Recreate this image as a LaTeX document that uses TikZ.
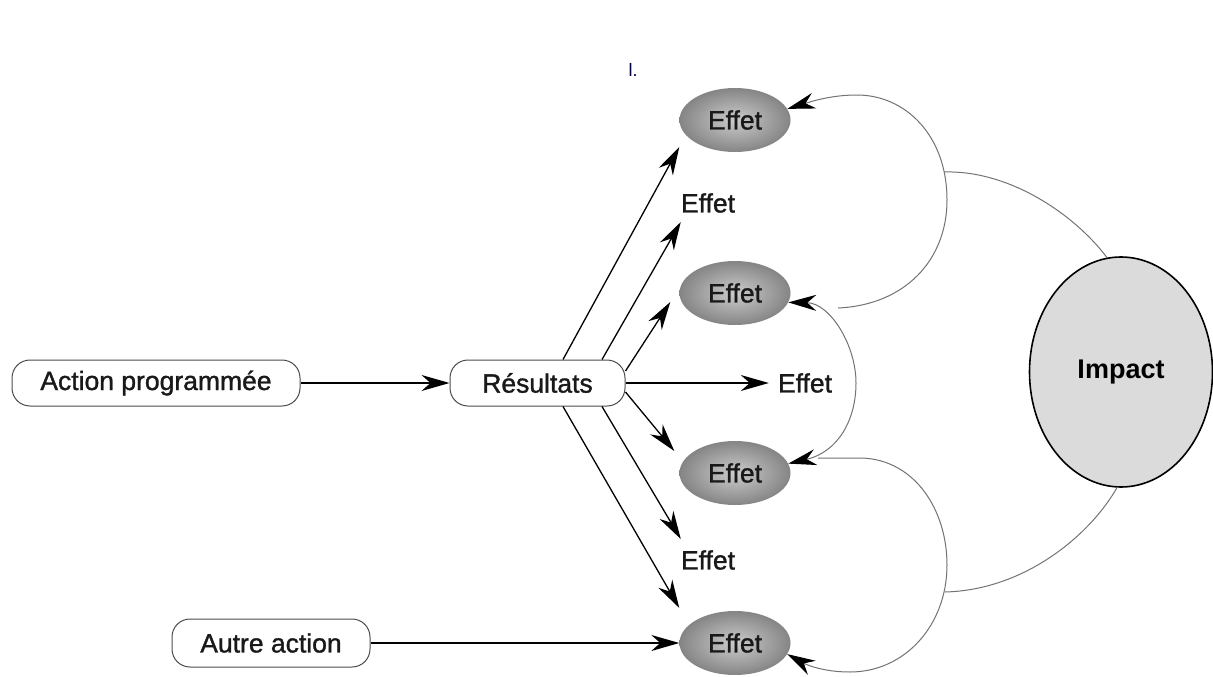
\documentclass[tikz,border=0pt]{standalone}
\usepackage{fontspec}
\setmainfont{Liberation Sans}
\newfontfamily\medfont[FakeBold=1.2]{Liberation Sans}
\usetikzlibrary{arrows.meta,shapes.geometric,calc}
\begin{document}
\begin{tikzpicture}[x=1pt,y=-1pt,
  txt/.style={font=\medfont\fontsize{26.5}{30}\selectfont, text=black!90, inner sep=0pt},
  boxnode/.style={txt, draw=black!70, line width=1pt, rounded corners=18pt, fill=white, minimum height=46pt},
  effnode/.style={txt, ellipse, minimum width=111pt, minimum height=64pt, inner color=black!20, outer color=black!48},
  impnode/.style={ellipse, draw=black, line width=1.6pt, fill=black!14, minimum width=183pt, minimum height=230pt, inner sep=0pt, font=\bfseries\fontsize{27}{30}\selectfont},
  tipstyle/.tip={Stealth[length=28pt,width=16pt,inset=9pt,color=black]},
  arr/.style={-tipstyle, line width=1.3pt, draw=black},
  curve/.style={draw=black!55, line width=1pt}
  ]
\useasboundingbox (0,0) rectangle (1213,677);
\fill[white] (0,0) rectangle (1213,677);

% nodes
\node[boxnode, minimum width=288pt] (ap) at (156,383) {Action programmée};
\node[boxnode, minimum width=175pt] (res) at (537.5,383) {Résultats};
\node[boxnode, minimum width=198pt, minimum height=48pt] (aa) at (271,643) {Autre action};
\node[effnode] (e1) at (735,120) {Effet};
\node[effnode] (e2) at (735,293) {Effet};
\node[effnode] (e3) at (735,473) {Effet};
\node[effnode] (e4) at (735,643) {Effet};
\node[txt] (t1) at (708,203) {Effet};
\node[txt] (t2) at (805,383) {Effet};
\node[txt] (t3) at (708,560) {Effet};
\node[impnode] (imp) at (1121,372) {Impact};
\node[font=\fontsize{18}{20}\selectfont, text=black!75!blue, inner sep=0pt] (mark) at (633,70) {l.};

% start points on Résultats
\coordinate (r1) at ($(res.north)+(25.5,0)$);
\coordinate (r2) at ($(res.north)+(64.5,0)$);
\coordinate (r3) at ($(res.south)+(25.5,0)$);
\coordinate (r4) at ($(res.south)+(64.5,0)$);

% straight arrows
\draw[arr] (ap) -- (res);
\draw[arr] (aa) -- (e4);
\draw[arr, shorten >=9pt] (res) -- (t2);
\draw[arr] (r1) -- ([yshift=-27pt]e1.west);
\draw[arr] (r2) -- ([yshift=-19pt]t1.west);
\draw[arr] ([yshift=12pt]res.east) -- ([xshift=-9pt,yshift=-9pt]e2.west);
\draw[arr] ([yshift=-9pt]res.east) -- ([xshift=-5pt,yshift=22pt]e3.west);
\draw[arr] (r4) -- ([yshift=21pt]t3.west);
\draw[arr] (r3) -- ([yshift=35pt]e4.west);

% curved feedback connectors
\coordinate (c1a) at (838,308);
\coordinate (c1r) at (947,200);
\coordinate (c1t) at (857,95);
\coordinate (c1m) at (944,172);
\coordinate (c2r) at (856,383);
\coordinate (c3a) at (818,458);
\coordinate (c3b) at (862,458);
\coordinate (c3r) at (947,565);
\coordinate (c3d) at (850,672);
\coordinate (c3m) at (945,592);

\draw[curve, tipstyle-tipstyle] (e3.10) .. controls (838,452) and (856,420) .. (c2r)
   .. controls (856,345) and (830,303) .. (e2.-10);
\draw[curve, -tipstyle] (c1a) .. controls (905,305) and (947,260) .. (c1r)
   .. controls (947,135) and (905,95) .. (c1t)
   .. controls (830,95) and (810,102) .. (e1.12);
\draw[curve, -tipstyle] (c3a) -- (c3b) .. controls (915,460) and (947,510) .. (c3r)
   .. controls (947,625) and (905,672) .. (c3d)
   .. controls (822,672) and (805,664) .. (e4.-12);
\draw[curve] (c1m) .. controls (1010,170) and (1075,215) .. (imp.97);
\draw[curve] (c3m) .. controls (1025,590) and (1090,535) .. (imp.268);
\end{tikzpicture}
\end{document}
